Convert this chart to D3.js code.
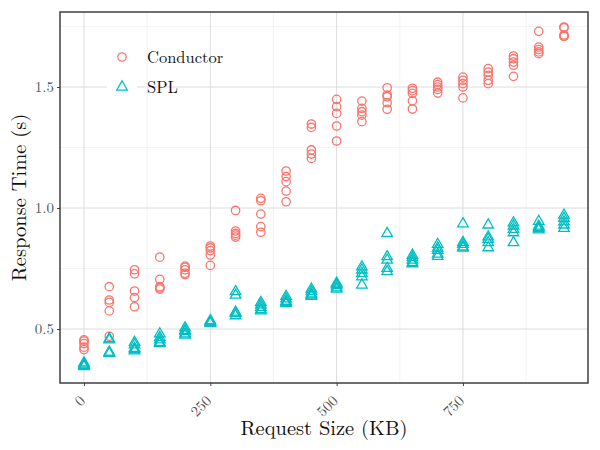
<!DOCTYPE html>
<meta charset="UTF-8">
<body style="margin:0;background:#fff">
<script src="https://cdnjs.cloudflare.com/ajax/libs/d3/7.8.5/d3.min.js"></script>
<script>

	// request sizes (KB), one column of repeated runs per size
	var requestSizes = [0, 50, 100, 150, 200, 250, 300, 350, 400, 450, 500, 550, 600, 650, 700, 750, 800, 850, 900, 950];

	// response times (s), 5 runs per size
	var conductorTimes = [
		[0.455, 0.45, 0.44, 0.425, 0.415],
		[0.675, 0.62, 0.61, 0.575, 0.47],
		[0.745, 0.728, 0.657, 0.63, 0.592],
		[0.797, 0.705, 0.675, 0.67, 0.665],
		[0.76, 0.755, 0.745, 0.73, 0.725],
		[0.843, 0.835, 0.824, 0.806, 0.763],
		[0.99, 0.905, 0.895, 0.888, 0.88],
		[1.04, 1.03, 0.975, 0.923, 0.9],
		[1.153, 1.13, 1.109, 1.07, 1.026],
		[1.347, 1.333, 1.24, 1.223, 1.205],
		[1.449, 1.419, 1.391, 1.339, 1.277],
		[1.442, 1.412, 1.398, 1.384, 1.357],
		[1.497, 1.467, 1.46, 1.435, 1.408],
		[1.495, 1.485, 1.474, 1.443, 1.409],
		[1.52, 1.51, 1.5, 1.49, 1.475],
		[1.541, 1.528, 1.514, 1.5, 1.455],
		[1.576, 1.562, 1.548, 1.528, 1.514],
		[1.628, 1.617, 1.603, 1.59, 1.544],
		[1.73, 1.665, 1.655, 1.645, 1.638],
		[1.748, 1.745, 1.715, 1.71, 1.71]
	];

	var splTimes = [
		[0.36, 0.355, 0.35, 0.35, 0.345],
		[0.46, 0.455, 0.405, 0.40, 0.40],
		[0.445, 0.435, 0.42, 0.415, 0.41],
		[0.48, 0.465, 0.455, 0.445, 0.44],
		[0.505, 0.495, 0.49, 0.48, 0.475],
		[0.535, 0.53, 0.53, 0.525, 0.525],
		[0.655, 0.64, 0.57, 0.565, 0.555],
		[0.61, 0.60, 0.59, 0.58, 0.575],
		[0.635, 0.625, 0.615, 0.61, 0.605],
		[0.665, 0.655, 0.645, 0.64, 0.635],
		[0.69, 0.685, 0.68, 0.67, 0.665],
		[0.757, 0.744, 0.73, 0.716, 0.682],
		[0.895, 0.799, 0.785, 0.751, 0.737],
		[0.805, 0.795, 0.785, 0.775, 0.77],
		[0.85, 0.835, 0.825, 0.81, 0.80],
		[0.935, 0.858, 0.85, 0.84, 0.835],
		[0.93, 0.881, 0.871, 0.857, 0.836],
		[0.939, 0.926, 0.912, 0.898, 0.857],
		[0.945, 0.925, 0.92, 0.915, 0.91],
		[0.971, 0.957, 0.943, 0.93, 0.916]
	];

	var xTicks = [0, 250, 500, 750];
	var xMinor = [125, 375, 625, 875];
	var yTicks = [0.5, 1.0, 1.5];
	var yMinor = [0.75, 1.25, 1.75];
	var seriesNames = ["Conductor", "SPL"];
	var seriesColors = ["#F8766D", "#00BFC4"];

	var font = '"Latin Modern Roman", "Liberation Serif", serif';

	var width = 600, height = 450;
	var margin = { top: 12, right: 12, bottom: 67, left: 60 };

	var svg = d3.select("body").append("svg")
		.attr("width", width)
		.attr("height", height);

	var x = d3.scaleLinear()
		.domain([-47.5, 997.5])
		.range([margin.left, width - margin.right]);
	var y = d3.scaleLinear()
		.domain([0.277, 1.81])
		.range([height - margin.bottom, margin.top]);

	// flatten to points
	const toPoints = (times) => {
		var pts = [];
		times.forEach((runs, i) => runs.forEach(v => pts.push({ size: requestSizes[i], time: v })));
		return pts;
	};
	var conductorPts = toPoints(conductorTimes);
	var splPts = toPoints(splTimes);

	// grid
	var grid = svg.append("g");
	grid.selectAll("line.minor-x").data(xMinor).enter().append("line")
		.attr("x1", d => x(d)).attr("x2", d => x(d))
		.attr("y1", margin.top).attr("y2", height - margin.bottom)
		.attr("stroke", "#f0f0f0").attr("stroke-width", 0.8);
	grid.selectAll("line.minor-y").data(yMinor).enter().append("line")
		.attr("y1", d => y(d)).attr("y2", d => y(d))
		.attr("x1", margin.left).attr("x2", width - margin.right)
		.attr("stroke", "#f0f0f0").attr("stroke-width", 0.8);
	grid.selectAll("line.major-x").data(xTicks).enter().append("line")
		.attr("x1", d => x(d)).attr("x2", d => x(d))
		.attr("y1", margin.top).attr("y2", height - margin.bottom)
		.attr("stroke", "#dcdcdc").attr("stroke-width", 1);
	grid.selectAll("line.major-y").data(yTicks).enter().append("line")
		.attr("y1", d => y(d)).attr("y2", d => y(d))
		.attr("x1", margin.left).attr("x2", width - margin.right)
		.attr("stroke", "#dcdcdc").attr("stroke-width", 1);

	// axes
	var xAxis = svg.append("g")
		.attr("transform", `translate(0,${height - margin.bottom})`)
		.call(d3.axisBottom(x).tickValues(xTicks).tickSize(3).tickFormat(d3.format("d")));
	xAxis.select(".domain").remove();
	xAxis.selectAll(".tick line").attr("stroke", "#444");
	xAxis.selectAll(".tick text")
		.style("font-family", font).style("font-size", "15px").attr("fill", "#555")
		.attr("text-anchor", "end")
		.attr("dy", null)
		.attr("transform", "translate(-8,9) rotate(-45)")
		.attr("y", 0).attr("x", 0)
		.attr("dominant-baseline", "hanging");

	var yAxis = svg.append("g")
		.attr("transform", `translate(${margin.left},0)`)
		.call(d3.axisLeft(y).tickValues(yTicks).tickSize(3).tickFormat(d3.format(".1f")));
	yAxis.select(".domain").remove();
	yAxis.selectAll(".tick line").attr("stroke", "#444");
	yAxis.selectAll(".tick text")
		.style("font-family", font).style("font-size", "15px").attr("fill", "#555")
		.attr("x", -6);

	// points
	svg.append("g").selectAll("circle")
		.data(conductorPts).enter().append("circle")
		.attr("cx", d => x(d.size))
		.attr("cy", d => y(d.time))
		.attr("r", 4.2)
		.attr("fill", "none")
		.attr("stroke", seriesColors[0])
		.attr("stroke-width", 1.3);

	var tri = d3.symbol().type(d3.symbolTriangle).size(48);
	svg.append("g").selectAll("path")
		.data(splPts).enter().append("path")
		.attr("d", tri)
		.attr("transform", d => `translate(${x(d.size)},${y(d.time)})`)
		.attr("fill", "none")
		.attr("stroke", seriesColors[1])
		.attr("stroke-width", 1.3);

	// frame
	svg.append("rect")
		.attr("x", margin.left).attr("y", margin.top)
		.attr("width", width - margin.left - margin.right)
		.attr("height", height - margin.top - margin.bottom)
		.attr("fill", "none")
		.attr("stroke", "#333")
		.attr("stroke-width", 1.4);

	// legend
	var legend = svg.append("g").attr("transform", "translate(122,57)");
	seriesNames.forEach((name, i) => {
		var g = legend.append("g").attr("transform", `translate(0,${i * 30})`);
		g.append("rect").attr("x", -15).attr("y", -15).attr("width", 30).attr("height", 30).attr("fill", "#fff");
		if (i == 0) {
			g.append("circle").attr("r", 4.2).attr("fill", "none")
				.attr("stroke", seriesColors[0]).attr("stroke-width", 1.3);
		} else {
			g.append("path").attr("d", tri).attr("fill", "none")
				.attr("stroke", seriesColors[1]).attr("stroke-width", 1.3);
		}
		g.append("text")
			.style("font-family", font).style("font-size", "16.5px")
			.attr("fill", "#111")
			.attr("x", 25)
			.attr("dy", "0.35em")
			.text(name);
	});

	// axis titles
	svg.append("text")
		.style("font-family", font).style("font-size", "20.5px")
		.attr("fill", "#111")
		.attr("x", (margin.left + width - margin.right) / 2)
		.attr("y", 435)
		.attr("text-anchor", "middle")
		.text("Request Size (KB)");
	svg.append("text")
		.style("font-family", font).style("font-size", "20.5px")
		.attr("fill", "#111")
		.attr("transform", `translate(26,${(margin.top + height - margin.bottom) / 2}) rotate(-90)`)
		.attr("text-anchor", "middle")
		.text("Response Time (s)");

</script>
</body>
